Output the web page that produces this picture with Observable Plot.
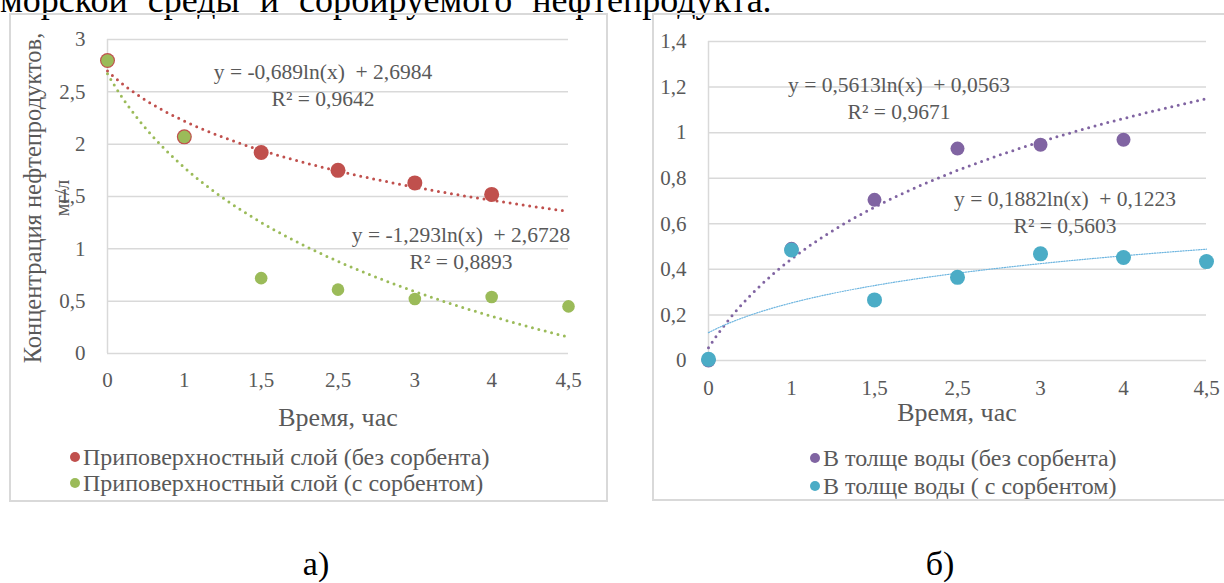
<!DOCTYPE html>
<html>
<head>
<meta charset="utf-8">
<script src="https://cdn.jsdelivr.net/npm/d3@7"></script>
<script src="https://cdn.jsdelivr.net/npm/@observablehq/plot@0.6"></script>
<style>
  body { margin: 0; background: #fff; }
  #page {
    position: relative; width: 1224px; height: 583px; overflow: hidden; background: #fff;
    font-family: "Liberation Serif", "Tinos", "Times New Roman", "DejaVu Serif", serif;
  }
  .frame { position: absolute; border: 2px solid #d9d9d9; box-sizing: border-box; }
  .chart { position: absolute; top: 0; }
  .eq {
    position: absolute; color: #595959; font-size: 21.5px; white-space: pre;
    text-align: center; transform: translateX(-50%);
  }
  .axis-title { position: absolute; color: #595959; font-size: 26px; white-space: pre; transform: translateX(-50%); line-height: 24px; }
  .ytitle {
    position: absolute; color: #595959; white-space: pre; text-align: center;
    width: 420px; transform: rotate(-90deg); transform-origin: 50% 50%;
  }
  .legend { position: absolute; color: #595959; font-size: 24px; }
  .legend .row { display: flex; align-items: center; white-space: pre; }
  .legend .sw { width: 10px; height: 10px; border-radius: 50%; margin-right: 3px; flex: none; }
  .doc { position: absolute; color: #000; white-space: pre; }
</style>
</head>
<body>
<div id="page"></div>
<script>
// Time points (categories on the horizontal axis), hours
const timeLabels = ["0", "1", "1,5", "2,5", "3", "4", "4,5"];

// Near-surface layer, oil product concentration, mg/l
const surfaceNoSorbent = [2.8, 2.07, 1.92, 1.75, 1.63, 1.52, null];
const surfaceWithSorbent = [2.8, 2.07, 0.72, 0.61, 0.52, 0.54, 0.45];

// Water column, oil product concentration, mg/l
const waterNoSorbent = [0, 0.49, 0.705, 0.93, 0.947, 0.969, null];
const waterWithSorbent = [0.005, 0.485, 0.266, 0.365, 0.468, 0.452, 0.434];

// Logarithmic trend lines y = a·ln(x) + b (x = category number 1…7) and their R²
const surfaceTrendA = [-0.689, -1.293];
const surfaceTrendB = [2.6984, 2.6728];
const surfaceTrendR2 = [0.9642, 0.8893];
const waterTrendA = [0.5613, 0.1882];
const waterTrendB = [0.0563, 0.1223];
const waterTrendR2 = [0.9671, 0.5603];

// Axis ticks
const surfaceYTicks = [0, 0.5, 1, 1.5, 2, 2.5, 3];
const waterYTicks = [0, 0.2, 0.4, 0.6, 0.8, 1, 1.2, 1.4];

const legendSurface = ["Приповерхностный слой (без сорбента)", "Приповерхностный слой (с сорбентом)"];
const legendWater = ["В толще воды (без сорбента)", "В толще воды ( с сорбентом)"];

const colors = { red: "#c0504d", green: "#9bbb59", purple: "#8064a2", cyan: "#4bacc6", cyanTrend: "#6fb6e0" };

const comma = v => String(v).replace(".", ",");
const idx = d3.range(timeLabels.length);
const xDomain = [0, timeLabels.length - 1];
const samples = d3.range(0, xDomain[1] + 1e-9, 0.05);
const trend = (a, b) => samples.map(t => ({ t, v: a * Math.log(t + 1) + b }));
const eqText = (a, b, r2) =>
  `y = ${comma(a)}ln(x)  + ${comma(b)}\nR² = ${comma(r2)}`;

const page = document.getElementById("page");
function add(html) { page.insertAdjacentHTML("beforeend", html); }

// Body text line that runs above the figure
add(`<div class="doc" style="left:0;top:-18px;font-size:36px;line-height:36px;word-spacing:11px">морской среды и сорбируемого нефтепродукта.</div>`);

// Chart frames
add(`<div class="frame" style="left:9px;top:13px;width:599px;height:489px"></div>`);
add(`<div class="frame" style="left:652px;top:13px;width:600px;height:488px"></div>`);

const dotted = { strokeWidth: 3, strokeDasharray: "0 6.6", strokeLinecap: "round" };
const serif = "Liberation Serif, Tinos, Times New Roman, DejaVu Serif, serif";

function chart({ width, height, mL, mR, mT, mB, yTicks, pad, series, trends }) {
  return Plot.plot({
    width, height,
    marginLeft: mL, marginRight: mR, marginTop: mT, marginBottom: mB,
    style: { fontFamily: serif, fontSize: "21px", color: "#595959", background: "transparent", overflow: "visible" },
    x: { type: "linear", domain: xDomain, ticks: idx, tickFormat: i => timeLabels[i], tickSize: 0, tickPadding: pad, label: null },
    y: { domain: [yTicks[0], yTicks[yTicks.length - 1]], ticks: yTicks, tickFormat: comma, tickSize: 0, tickPadding: 22, label: null },
    marks: [
      Plot.gridY(yTicks, { stroke: "#d9d9d9", strokeOpacity: 1, strokeWidth: 1.5 }),
      Plot.ruleX([xDomain[0]], { stroke: "#d9d9d9", strokeWidth: 1.5 }),
      ...trends,
      ...series.map(s => Plot.dot(idx, { x: i => i, y: i => s.values[i], r: s.r, fill: s.color, stroke: s.color, strokeWidth: 0 }))
    ]
  });
}

// а) near-surface layer
const left = chart({
  width: 620, height: 440, mL: 107, mR: 52, mT: 39, mB: 87,
  yTicks: surfaceYTicks, pad: 19,
  trends: [
    Plot.line(trend(surfaceTrendA[0], surfaceTrendB[0]), { x: "t", y: "v", stroke: colors.red, ...dotted }),
    Plot.line(trend(surfaceTrendA[1], surfaceTrendB[1]), { x: "t", y: "v", stroke: colors.green, ...dotted })
  ],
  series: [
    { values: surfaceNoSorbent, color: colors.red, r: 7.5 },
    { values: surfaceWithSorbent, color: colors.green, r: 6.3 }
  ]
});
left.classList.add("chart");
left.style.left = "0px";
page.appendChild(left);

// б) water column
const right = chart({
  width: 604, height: 440, mL: 88, mR: 18, mT: 41, mB: 80,
  yTicks: waterYTicks, pad: 20,
  trends: [
    Plot.line(trend(waterTrendA[0], waterTrendB[0]), { x: "t", y: "v", stroke: colors.purple, ...dotted }),
    Plot.line(trend(waterTrendA[1], waterTrendB[1]), { x: "t", y: "v", stroke: colors.cyanTrend, strokeWidth: 1.2, strokeDasharray: "1.2 1.4" })
  ],
  series: [
    { values: waterNoSorbent, color: colors.purple, r: 7 },
    { values: waterWithSorbent, color: colors.cyan, r: 7.5 }
  ]
});
right.classList.add("chart");
right.style.left = "620px";
page.appendChild(right);

// Trend line equations
add(`<div class="eq" style="left:323px;top:59px;line-height:27px">${eqText(surfaceTrendA[0], surfaceTrendB[0], surfaceTrendR2[0])}</div>`);
add(`<div class="eq" style="left:461px;top:222px;line-height:27px">${eqText(surfaceTrendA[1], surfaceTrendB[1], surfaceTrendR2[1])}</div>`);
add(`<div class="eq" style="left:899px;top:72px;line-height:27px">${eqText(waterTrendA[0], waterTrendB[0], waterTrendR2[0])}</div>`);
add(`<div class="eq" style="left:1065px;top:186px;line-height:27px">${eqText(waterTrendA[1], waterTrendB[1], waterTrendR2[1])}</div>`);

// Axis titles
add(`<div class="axis-title" style="left:338px;top:406px">Время, час</div>`);
add(`<div class="axis-title" style="left:957px;top:401px">Время, час</div>`);
add(`<div class="ytitle" style="left:-177px;top:184px;font-size:24.5px;line-height:28px">Концентрация нефтепродуктов,</div>`);
add(`<div class="ytitle" style="left:-148px;top:186px;font-size:20px;line-height:24px">мг/л</div>`);

// Legends
function legend(left, top, lh, labels, cols) {
  const rows = labels.map((t, i) =>
    `<div class="row" style="height:${lh}px"><span class="sw" style="background:${cols[i]}"></span>${t}</div>`).join("");
  add(`<div class="legend" style="left:${left}px;top:${top}px">${rows}</div>`);
}
legend(70, 444, 26, legendSurface, [colors.red, colors.green]);
legend(810, 444, 28, legendWater, [colors.purple, colors.cyan]);

// Figure part labels
add(`<div class="doc" style="left:316px;top:547px;font-size:34px;line-height:34px;transform:translateX(-50%)">а)</div>`);
add(`<div class="doc" style="left:940px;top:547px;font-size:34px;line-height:34px;transform:translateX(-50%)">б)</div>`);
</script>
</body>
</html>
